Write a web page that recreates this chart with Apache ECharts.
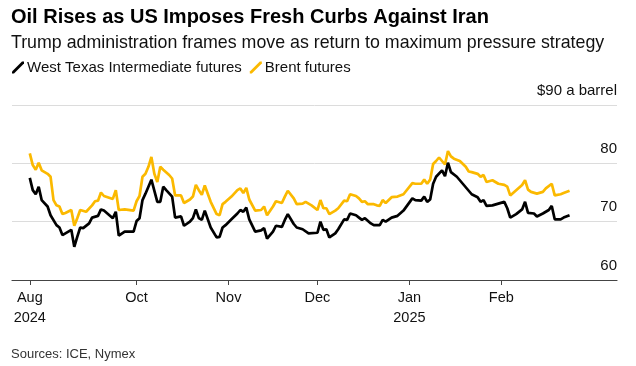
<!DOCTYPE html>
<html><head><meta charset="utf-8">
<script src="https://cdn.jsdelivr.net/npm/echarts@6/dist/echarts.min.js"></script>
<style>html,body{margin:0;padding:0;background:#fff}#c{width:636px;height:366px}</style>
</head><body><div id="c"></div>
<script>
const brentDates = ['2024-08-26','2024-08-27','2024-08-28','2024-08-29','2024-08-30','2024-09-01','2024-09-02','2024-09-03','2024-09-04','2024-09-05','2024-09-06','2024-09-07','2024-09-09','2024-09-10','2024-09-11','2024-09-12','2024-09-14','2024-09-16','2024-09-17','2024-09-18','2024-09-19','2024-09-20','2024-09-23','2024-09-24','2024-09-25','2024-09-27','2024-09-30','2024-10-01','2024-10-02','2024-10-03','2024-10-04','2024-10-05','2024-10-06','2024-10-07','2024-10-08','2024-10-09','2024-10-10','2024-10-12','2024-10-13','2024-10-14','2024-10-16','2024-10-17','2024-10-19','2024-10-20','2024-10-21','2024-10-22','2024-10-23','2024-10-24','2024-10-26','2024-10-28','2024-10-29','2024-10-30','2024-10-31','2024-11-02','2024-11-04','2024-11-05','2024-11-06','2024-11-07','2024-11-08','2024-11-10','2024-11-12','2024-11-13','2024-11-14','2024-11-16','2024-11-17','2024-11-19','2024-11-20','2024-11-21','2024-11-23','2024-11-24','2024-11-26','2024-11-27','2024-11-29','2024-12-01','2024-12-02','2024-12-03','2024-12-04','2024-12-05','2024-12-07','2024-12-08','2024-12-10','2024-12-11','2024-12-12','2024-12-14','2024-12-15','2024-12-16','2024-12-17','2024-12-18','2024-12-20','2024-12-21','2024-12-22','2024-12-23','2024-12-24','2024-12-26','2024-12-28','2024-12-30','2025-01-02','2025-01-03','2025-01-05','2025-01-06','2025-01-07','2025-01-08','2025-01-09','2025-01-10','2025-01-11','2025-01-13','2025-01-14','2025-01-15','2025-01-16','2025-01-18','2025-01-20','2025-01-21','2025-01-22','2025-01-24','2025-01-25','2025-01-26','2025-01-27','2025-01-29','2025-01-31','2025-02-02','2025-02-03','2025-02-04','2025-02-06','2025-02-08','2025-02-09','2025-02-10','2025-02-11','2025-02-13','2025-02-15','2025-02-16','2025-02-18','2025-02-19','2025-02-21','2025-02-22','2025-02-24'];
const brentValues = [81.7,79.7,78.9,80.1,78.8,78.2,77.7,73.7,72.8,72.6,71.3,71.5,72.0,69.3,70.6,72.0,71.7,72.8,73.5,73.6,75.0,74.4,73.9,75.4,72.0,72.1,71.9,73.5,74.4,77.7,78.2,79.4,81.1,78.2,76.8,79.4,78.9,78.0,77.4,74.5,74.5,73.2,73.8,74.3,76.3,75.4,74.6,76.2,73.4,71.3,71.1,73.0,73.4,74.3,75.4,75.7,74.9,75.8,73.8,71.9,72.0,72.6,71.1,72.6,73.5,73.2,74.3,75.3,74.0,73.0,73.1,73.4,72.8,72.0,73.7,72.3,72.3,71.3,71.9,72.3,73.6,73.5,74.7,74.4,74.0,73.4,73.5,73.0,73.0,72.8,72.7,73.7,73.2,74.2,74.3,74.7,76.6,76.5,76.5,77.2,76.5,77.2,79.9,80.4,81.0,79.8,82.1,81.2,80.8,80.4,79.4,78.6,78.5,78.2,77.7,78.0,76.8,77.1,76.5,76.3,76.0,74.5,75.4,76.3,77.1,75.5,75.1,74.8,75.1,75.7,76.5,74.5,74.7,74.9,75.3];
const wtiDates = ['2024-08-26','2024-08-27','2024-08-28','2024-08-29','2024-08-30','2024-09-01','2024-09-02','2024-09-04','2024-09-05','2024-09-06','2024-09-08','2024-09-09','2024-09-10','2024-09-11','2024-09-12','2024-09-13','2024-09-15','2024-09-16','2024-09-18','2024-09-19','2024-09-20','2024-09-23','2024-09-24','2024-09-25','2024-09-27','2024-09-30','2024-10-01','2024-10-02','2024-10-03','2024-10-04','2024-10-05','2024-10-06','2024-10-08','2024-10-09','2024-10-10','2024-10-11','2024-10-13','2024-10-14','2024-10-16','2024-10-17','2024-10-19','2024-10-20','2024-10-21','2024-10-22','2024-10-23','2024-10-24','2024-10-26','2024-10-28','2024-10-29','2024-10-30','2024-10-31','2024-11-02','2024-11-04','2024-11-05','2024-11-06','2024-11-07','2024-11-08','2024-11-10','2024-11-12','2024-11-13','2024-11-14','2024-11-16','2024-11-17','2024-11-19','2024-11-20','2024-11-21','2024-11-23','2024-11-24','2024-11-26','2024-11-28','2024-12-01','2024-12-02','2024-12-03','2024-12-04','2024-12-05','2024-12-07','2024-12-08','2024-12-10','2024-12-11','2024-12-12','2024-12-14','2024-12-15','2024-12-16','2024-12-17','2024-12-19','2024-12-20','2024-12-22','2024-12-23','2024-12-24','2024-12-26','2024-12-28','2024-12-30','2025-01-02','2025-01-03','2025-01-05','2025-01-06','2025-01-07','2025-01-08','2025-01-09','2025-01-10','2025-01-12','2025-01-13','2025-01-14','2025-01-15','2025-01-17','2025-01-19','2025-01-21','2025-01-22','2025-01-24','2025-01-25','2025-01-26','2025-01-27','2025-01-29','2025-01-31','2025-02-02','2025-02-03','2025-02-04','2025-02-06','2025-02-08','2025-02-09','2025-02-10','2025-02-12','2025-02-13','2025-02-15','2025-02-17','2025-02-18','2025-02-19','2025-02-21','2025-02-22','2025-02-24'];
const wtiValues = [77.5,75.4,74.7,76.0,73.7,72.6,71.1,69.4,69.0,67.7,68.3,68.6,65.7,67.4,69.0,68.9,69.7,70.7,71.0,72.1,71.9,70.6,71.7,67.6,68.3,68.3,70.1,70.6,73.7,74.8,76.0,77.2,73.4,73.4,76.0,75.4,74.3,70.7,70.9,69.3,70.0,70.6,72.1,70.6,70.3,71.9,69.0,67.3,67.4,69.0,69.4,70.4,71.4,72.0,71.7,72.4,70.4,68.3,68.5,68.9,67.1,68.3,69.3,69.1,70.3,71.3,69.6,69.0,68.7,68.0,68.1,70.0,68.6,68.7,67.3,68.0,68.7,70.4,70.3,71.4,71.1,70.7,70.3,70.6,69.7,69.4,69.4,70.3,70.0,70.7,71.0,71.9,74.0,73.7,73.6,74.3,73.4,73.8,76.5,77.7,78.8,77.8,80.1,78.5,77.7,76.5,75.3,74.7,74.2,73.4,73.7,72.7,72.8,73.1,73.4,72.3,70.7,71.3,72.1,73.4,71.5,71.4,70.9,71.4,72.0,72.7,70.4,70.4,70.7,71.1];
const tickDates = ['2024-08-26','2024-10-01','2024-11-01','2024-12-01','2025-01-01','2025-02-01'];
const tickLabels = ['Aug\n2024','Oct','Nov','Dec','Jan\n2025','Feb'];
const seriesNames = ['West Texas Intermediate futures', 'Brent futures'];

const FONT = "'Liberation Sans', Arial, sans-serif";
const ts = s => new Date(s + 'T00:00:00Z').getTime();
const tickTs = tickDates.map(ts);
const wtiData = wtiDates.map((d, i) => [ts(d), wtiValues[i]]);
const brentData = brentDates.map((d, i) => [ts(d), brentValues[i]]);
const slash = 'path://M0,12 L2,12 L12,2 L12,0 L10,0 L0,10 Z';

const chart = echarts.init(document.getElementById('c'), null, {renderer: 'canvas'});
chart.setOption({
  animation: false,
  backgroundColor: '#fff',
  textStyle: {fontFamily: FONT},
  title: [
    {text: 'Oil Rises as US Imposes Fresh Curbs Against Iran', left: 11, top: 7, padding: 0,
     textStyle: {fontFamily: FONT, fontSize: 20, fontWeight: 'bold', color: '#000'}},
    {text: 'Trump administration frames move as return to maximum pressure strategy', left: 11, top: 34, padding: 0,
     textStyle: {fontFamily: FONT, fontSize: 17.8, fontWeight: 'normal', color: '#111'}},
    {text: 'Sources: ICE, Nymex', left: 11, top: 348, padding: 0,
     textStyle: {fontFamily: FONT, fontSize: 13, fontWeight: 'normal', color: '#333'}}
  ],
  legend: {
    left: 7, top: 55, itemGap: 8, itemWidth: 12, itemHeight: 12,
    data: seriesNames.map(n => ({name: n, icon: slash})),
    textStyle: {fontFamily: FONT, fontSize: 15, color: '#111', padding: [0, 0, 0, -2]}
  },
  grid: {left: 12, right: 19, top: 105, bottom: 86},
  xAxis: {
    type: 'value',
    min: ts('2024-08-20'), max: ts('2025-03-12'),
    splitLine: {show: false},
    axisLine: {show: true, lineStyle: {color: '#444', width: 1.2}},
    axisTick: {show: true, customValues: tickTs, length: 5, lineStyle: {color: '#444'}},
    axisLabel: {
      customValues: tickTs, margin: 8, fontSize: 14.5, color: '#111', lineHeight: 20,
      fontFamily: FONT, hideOverlap: false, showMinLabel: true, showMaxLabel: true,
      formatter: v => { const i = tickTs.indexOf(v); return i >= 0 ? tickLabels[i] : ''; }
    }
  },
  yAxis: {
    type: 'value', position: 'right', min: 60, max: 90, interval: 10,
    axisLine: {show: false}, axisTick: {show: false},
    splitLine: {show: true, lineStyle: {color: '#dcdcdc', width: 1}},
    axisLabel: {
      inside: true, margin: 0, fontSize: 15, color: '#111', fontFamily: FONT,
      verticalAlign: 'bottom', padding: [0, 0, 7, 0],
      formatter: v => v === 90 ? '$90 a barrel' : String(v)
    }
  },
  series: [
    {name: seriesNames[0], type: 'line', data: wtiData, showSymbol: false, symbol: 'none',
     lineStyle: {color: '#000', width: 2.7}, itemStyle: {color: '#000'}, z: 3},
    {name: seriesNames[1], type: 'line', data: brentData, showSymbol: false, symbol: 'none',
     lineStyle: {color: '#FBB900', width: 2.7}, itemStyle: {color: '#FBB900'}, z: 2}
  ]
});
</script></body></html>
